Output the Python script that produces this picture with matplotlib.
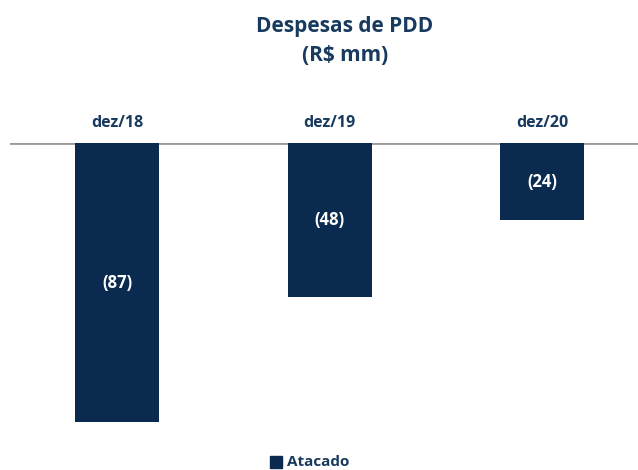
import matplotlib
matplotlib.use("Agg")
import matplotlib.pyplot as plt
from matplotlib.patches import Rectangle

categories = ["dez/18", "dez/19", "dez/20"]
values = [-87, -48, -24]
value_labels = ["(87)", "(48)", "(24)"]
series_name = "Atacado"
title = "Despesas de PDD\n(R$ mm)"

bar_color = "#0B2A4F"
text_color = "#173A5E"
plt.rcParams['font.family'] = ['Open Sans', 'DejaVu Sans']

W, H = 638, 470
fig = plt.figure(figsize=(W/100, H/100), dpi=100)
ax_top_px, ax_bot_px = 143, 440
ax = fig.add_axes([10/W, (H-ax_bot_px)/H, 628/W, (ax_bot_px-ax_top_px)/H])
ppu = 3.21
ax.set_ylim(-(ax_bot_px-ax_top_px)/ppu, 0)
x0 = -107/212.5
ax.set_xlim(x0, x0 + 628/212.5)
x = list(range(len(categories)))
ax.bar(x, values, width=84/212.5, color=bar_color, align='center', zorder=2)
for xi, v, lab in zip(x, values, value_labels):
    ax.text(xi, v/2, lab, ha='center', va='center', color='white',
            fontsize=12, fontweight='bold', zorder=3)
for xi, c in zip(x, categories):
    ax.text(xi, 20/ppu, c, ha='center', va='center', color=text_color,
            fontsize=11.5, fontweight='bold', clip_on=False)
ax.axhline(0, color='#9A9A9A', lw=2, zorder=1)
for s in ax.spines.values():
    s.set_visible(False)
ax.set_xticks([]); ax.set_yticks([])

fig.text(345/W, 1-41/H, title, ha='center', va='center', color=text_color,
         fontsize=15, fontweight='bold', linespacing=1.55)
fig.patches.append(Rectangle((270/W, 1-468/H), 12/W, 12/H, transform=fig.transFigure,
                             color=bar_color, figure=fig))
fig.text(287/W, 1-462/H, series_name, ha='left', va='center', color=text_color,
         fontsize=11, fontweight='bold')
fig.savefig("out.png", dpi=100)
